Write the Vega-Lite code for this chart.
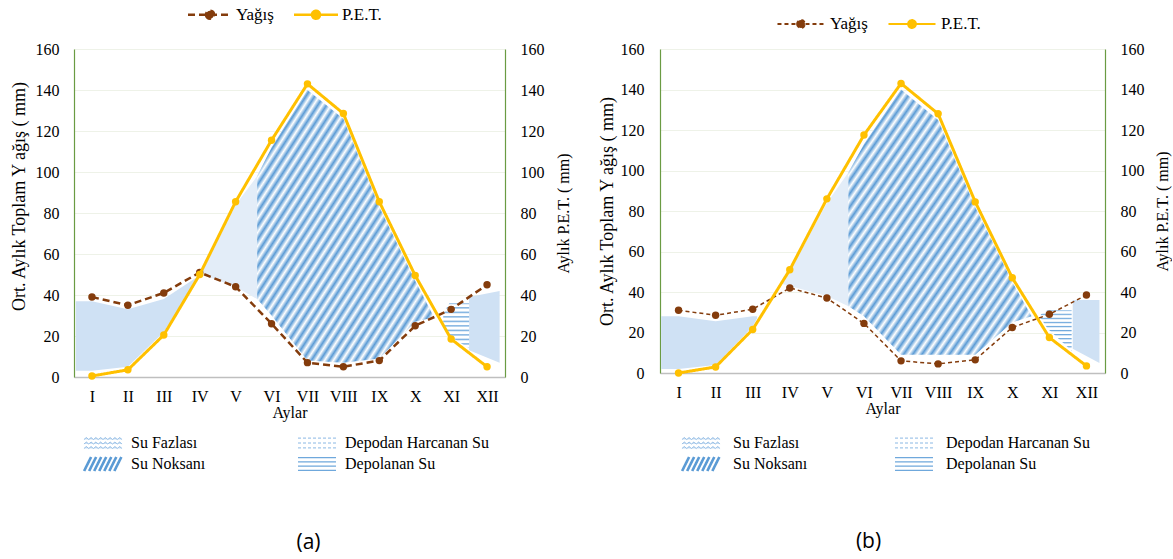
{
  "$schema": "https://vega.github.io/schema/vega-lite/v6.json",
  "background": "white",
  "padding": {"left": 10, "right": 2, "top": 5, "bottom": 2},
  "config": {
    "font": "Liberation Serif",
    "view": {"stroke": null},
    "axis": {"labelFont": "Liberation Serif", "titleFont": "Liberation Serif", "labelColor": "#000", "titleColor": "#000", "titleFontWeight": "normal", "labelFontSize": 16, "titleFontSize": 18, "ticks": false},
    "legend": {"labelFont": "Liberation Serif", "labelColor": "#000", "labelFontSize": 16},
    "title": {"font": "Open Sans", "fontWeight": "normal", "fontSize": 21, "color": "#000"}
  },
  "datasets": {
    "lines": [
      {"panel": "a", "series": "Yağış", "m": 1, "v": 39}, {"panel": "a", "series": "Yağış", "m": 2, "v": 35}, {"panel": "a", "series": "Yağış", "m": 3, "v": 41}, {"panel": "a", "series": "Yağış", "m": 4, "v": 51}, {"panel": "a", "series": "Yağış", "m": 5, "v": 44}, {"panel": "a", "series": "Yağış", "m": 6, "v": 26}, {"panel": "a", "series": "Yağış", "m": 7, "v": 7}, {"panel": "a", "series": "Yağış", "m": 8, "v": 5}, {"panel": "a", "series": "Yağış", "m": 9, "v": 8}, {"panel": "a", "series": "Yağış", "m": 10, "v": 25}, {"panel": "a", "series": "Yağış", "m": 11, "v": 33}, {"panel": "a", "series": "Yağış", "m": 12, "v": 45},
      {"panel": "a", "series": "P.E.T.", "m": 1, "v": 0.5}, {"panel": "a", "series": "P.E.T.", "m": 2, "v": 3.5}, {"panel": "a", "series": "P.E.T.", "m": 3, "v": 20.5}, {"panel": "a", "series": "P.E.T.", "m": 4, "v": 50}, {"panel": "a", "series": "P.E.T.", "m": 5, "v": 85.5}, {"panel": "a", "series": "P.E.T.", "m": 6, "v": 115.5}, {"panel": "a", "series": "P.E.T.", "m": 7, "v": 143}, {"panel": "a", "series": "P.E.T.", "m": 8, "v": 128.5}, {"panel": "a", "series": "P.E.T.", "m": 9, "v": 85.5}, {"panel": "a", "series": "P.E.T.", "m": 10, "v": 49.5}, {"panel": "a", "series": "P.E.T.", "m": 11, "v": 18.5}, {"panel": "a", "series": "P.E.T.", "m": 12, "v": 5},
      {"panel": "b", "series": "Yağış", "m": 1, "v": 31}, {"panel": "b", "series": "Yağış", "m": 2, "v": 28.5}, {"panel": "b", "series": "Yağış", "m": 3, "v": 31.5}, {"panel": "b", "series": "Yağış", "m": 4, "v": 42}, {"panel": "b", "series": "Yağış", "m": 5, "v": 37}, {"panel": "b", "series": "Yağış", "m": 6, "v": 24.5}, {"panel": "b", "series": "Yağış", "m": 7, "v": 6}, {"panel": "b", "series": "Yağış", "m": 8, "v": 4.5}, {"panel": "b", "series": "Yağış", "m": 9, "v": 6.5}, {"panel": "b", "series": "Yağış", "m": 10, "v": 22.5}, {"panel": "b", "series": "Yağış", "m": 11, "v": 29}, {"panel": "b", "series": "Yağış", "m": 12, "v": 38.5},
      {"panel": "b", "series": "P.E.T.", "m": 1, "v": 0}, {"panel": "b", "series": "P.E.T.", "m": 2, "v": 3}, {"panel": "b", "series": "P.E.T.", "m": 3, "v": 21.5}, {"panel": "b", "series": "P.E.T.", "m": 4, "v": 51}, {"panel": "b", "series": "P.E.T.", "m": 5, "v": 86}, {"panel": "b", "series": "P.E.T.", "m": 6, "v": 117.5}, {"panel": "b", "series": "P.E.T.", "m": 7, "v": 143}, {"panel": "b", "series": "P.E.T.", "m": 8, "v": 128}, {"panel": "b", "series": "P.E.T.", "m": 9, "v": 84.5}, {"panel": "b", "series": "P.E.T.", "m": 10, "v": 47}, {"panel": "b", "series": "P.E.T.", "m": 11, "v": 17.5}, {"panel": "b", "series": "P.E.T.", "m": 12, "v": 3.5}
    ],
    "areas": [
      {"panel": "a", "cat": "Su Fazlası", "seg": "a1", "m": 0.55, "top": 37, "bottom": 3}, {"panel": "a", "cat": "Su Fazlası", "seg": "a1", "m": 1, "top": 37, "bottom": 3}, {"panel": "a", "cat": "Su Fazlası", "seg": "a1", "m": 2, "top": 33, "bottom": 5}, {"panel": "a", "cat": "Su Fazlası", "seg": "a1", "m": 3, "top": 38, "bottom": 22}, {"panel": "a", "cat": "Su Fazlası", "seg": "a1", "m": 3.95, "top": 49, "bottom": 48},
      {"panel": "a", "cat": "Depodan Harcanan Su", "seg": "a2", "m": 4.05, "top": 51, "bottom": 50}, {"panel": "a", "cat": "Depodan Harcanan Su", "seg": "a2", "m": 5, "top": 84, "bottom": 44}, {"panel": "a", "cat": "Depodan Harcanan Su", "seg": "a2", "m": 5.6, "top": 98, "bottom": 38},
      {"panel": "a", "cat": "Su Noksanı", "seg": "a3", "m": 5.6, "top": 98, "bottom": 38}, {"panel": "a", "cat": "Su Noksanı", "seg": "a3", "m": 6, "top": 112, "bottom": 30}, {"panel": "a", "cat": "Su Noksanı", "seg": "a3", "m": 7, "top": 140, "bottom": 8}, {"panel": "a", "cat": "Su Noksanı", "seg": "a3", "m": 8, "top": 126, "bottom": 7}, {"panel": "a", "cat": "Su Noksanı", "seg": "a3", "m": 9, "top": 83, "bottom": 9}, {"panel": "a", "cat": "Su Noksanı", "seg": "a3", "m": 10, "top": 47, "bottom": 27}, {"panel": "a", "cat": "Su Noksanı", "seg": "a3", "m": 10.5, "top": 30, "bottom": 29},
      {"panel": "a", "cat": "Depolanan Su", "seg": "a4", "m": 10.78, "top": 31, "bottom": 25}, {"panel": "a", "cat": "Depolanan Su", "seg": "a4", "m": 10.95, "top": 36, "bottom": 20}, {"panel": "a", "cat": "Depolanan Su", "seg": "a4", "m": 11.5, "top": 36, "bottom": 14},
      {"panel": "a", "cat": "Su Fazlası", "seg": "a5", "m": 11.5, "top": 39, "bottom": 13}, {"panel": "a", "cat": "Su Fazlası", "seg": "a5", "m": 12.35, "top": 42, "bottom": 7},
      {"panel": "b", "cat": "Su Fazlası", "seg": "b1", "m": 0.53, "top": 28, "bottom": 2}, {"panel": "b", "cat": "Su Fazlası", "seg": "b1", "m": 1, "top": 28, "bottom": 2}, {"panel": "b", "cat": "Su Fazlası", "seg": "b1", "m": 2, "top": 25.5, "bottom": 4}, {"panel": "b", "cat": "Su Fazlası", "seg": "b1", "m": 3, "top": 28, "bottom": 23}, {"panel": "b", "cat": "Su Fazlası", "seg": "b1", "m": 3.12, "top": 28, "bottom": 27},
      {"panel": "b", "cat": "Depodan Harcanan Su", "seg": "b2", "m": 3.8, "top": 46, "bottom": 44}, {"panel": "b", "cat": "Depodan Harcanan Su", "seg": "b2", "m": 4, "top": 50, "bottom": 43}, {"panel": "b", "cat": "Depodan Harcanan Su", "seg": "b2", "m": 5, "top": 84, "bottom": 38}, {"panel": "b", "cat": "Depodan Harcanan Su", "seg": "b2", "m": 5.58, "top": 99, "bottom": 33},
      {"panel": "b", "cat": "Su Noksanı", "seg": "b3", "m": 5.58, "top": 99, "bottom": 33}, {"panel": "b", "cat": "Su Noksanı", "seg": "b3", "m": 6, "top": 113, "bottom": 28}, {"panel": "b", "cat": "Su Noksanı", "seg": "b3", "m": 7, "top": 140, "bottom": 9}, {"panel": "b", "cat": "Su Noksanı", "seg": "b3", "m": 8, "top": 125, "bottom": 9}, {"panel": "b", "cat": "Su Noksanı", "seg": "b3", "m": 9, "top": 82, "bottom": 9}, {"panel": "b", "cat": "Su Noksanı", "seg": "b3", "m": 10, "top": 45, "bottom": 25}, {"panel": "b", "cat": "Su Noksanı", "seg": "b3", "m": 10.52, "top": 28, "bottom": 28},
      {"panel": "b", "cat": "Depolanan Su", "seg": "b4", "m": 10.77, "top": 29, "bottom": 27}, {"panel": "b", "cat": "Depolanan Su", "seg": "b4", "m": 10.95, "top": 31, "bottom": 22}, {"panel": "b", "cat": "Depolanan Su", "seg": "b4", "m": 11.6, "top": 31, "bottom": 11},
      {"panel": "b", "cat": "Su Fazlası", "seg": "b5", "m": 11.63, "top": 36, "bottom": 12}, {"panel": "b", "cat": "Su Fazlası", "seg": "b5", "m": 12.35, "top": 36, "bottom": 5}
    ]
  },
  "spacing": 27,
  "resolve": {"scale": {"color": "independent", "fill": "independent", "strokeDash": "independent"}, "legend": {"color": "independent", "fill": "independent", "strokeDash": "independent"}},
  "hconcat": [
    {
      "width": 431,
      "height": 328,
      "title": {"text": "(a)", "orient": "bottom", "anchor": "middle", "offset": 55, "dx": 19},
      "resolve": {"scale": {"y": "independent"}},
      "layer": [
        {
          "data": {"name": "areas"},
          "transform": [{"filter": "datum.panel === 'a'"}],
          "mark": {"type": "area", "interpolate": "linear", "opacity": 1},
          "encoding": {
            "x": {"field": "m", "type": "quantitative", "scale": {"domain": [0.5, 12.5], "nice": false, "zero": false}, "axis": {"values": [1, 2, 3, 4, 5, 6, 7, 8, 9, 10, 11, 12], "labelExpr": "['I','II','III','IV','V','VI','VII','VIII','IX','X','XI','XII'][datum.value-1]", "grid": false, "domainColor": "#bfbfbf", "domainWidth": 1.5, "labelPadding": 11, "title": "Aylar", "titlePadding": 0, "titleFontSize": 16, "labelFlush": false, "labelOverlap": false}},
            "y": {"field": "top", "type": "quantitative", "scale": {"domain": [0, 160], "nice": false}, "axis": null},
            "y2": {"field": "bottom"},
            "detail": {"field": "seg"},
            "fill": {"field": "cat", "type": "nominal", "scale": {"domain": ["Su Fazlası", "Depodan Harcanan Su", "Su Noksanı", "Depolanan Su"], "range": ["#cfe1f4", "#e3edf8", "#ffffff", "#ffffff"]}, "legend": {"title": null, "orient": "none", "legendX": 21, "legendY": 386, "direction": "horizontal", "columns": 2, "symbolType": "square", "symbolSize": 196, "symbolStrokeWidth": 1, "symbolOpacity": 1, "labelFontSize": 16, "labelOffset": 20, "columnPadding": 89, "rowPadding": 0, "padding": 0, "encode": {"symbols": {"update": {
              "shape": {"signal": "datum.value === 'Su Noksanı' ? 'M-2.7,1L-1.7,-1M-1.98,1L-0.98,-1M-1.26,1L-0.26,-1M-0.54,1L0.46,-1M0.18,1L1.18,-1M0.9,1L1.9,-1M1.62,1L2.62,-1' : datum.value === 'Depolanan Su' ? 'M-2.714,-0.9H2.714M-2.714,-0.3H2.714M-2.714,0.3H2.714M-2.714,0.9H2.714' : datum.value === 'Su Fazlası' ? 'M-2.72,-0.5L-2.38,-0.77L-2.04,-0.5L-1.7,-0.77L-1.36,-0.5L-1.02,-0.77L-0.68,-0.5L-0.34,-0.77L0,-0.5L0.34,-0.77L0.68,-0.5L1.02,-0.77L1.36,-0.5L1.7,-0.77L2.04,-0.5L2.38,-0.77L2.72,-0.5M-2.72,0.14L-2.38,-0.13L-2.04,0.14L-1.7,-0.13L-1.36,0.14L-1.02,-0.13L-0.68,0.14L-0.34,-0.13L0,0.14L0.34,-0.13L0.68,0.14L1.02,-0.13L1.36,0.14L1.7,-0.13L2.04,0.14L2.38,-0.13L2.72,0.14M-2.72,0.78L-2.38,0.51L-2.04,0.78L-1.7,0.51L-1.36,0.78L-1.02,0.51L-0.68,0.78L-0.34,0.51L0,0.78L0.34,0.51L0.68,0.78L1.02,0.51L1.36,0.78L1.7,0.51L2.04,0.78L2.38,0.51L2.72,0.78' : 'M-2.714,-0.7H2.714M-2.714,0H2.714M-2.714,0.7H2.714'"},
              "fill": {"value": "transparent"},
              "stroke": {"signal": "datum.value === 'Su Noksanı' ? '#5b9bd5' : datum.value === 'Depolanan Su' ? '#6fa8dc' : '#8ab8e4'"},
              "strokeWidth": {"signal": "datum.value === 'Su Noksanı' ? 2.6 : datum.value === 'Depolanan Su' ? 1.3 : 1"},
              "strokeDash": {"signal": "datum.value === 'Depodan Harcanan Su' ? [3, 2] : [1, 0]"}
            }}}}}
          }
        },
        {
          "data": {"name": "areas"},
          "transform": [{"filter": "datum.panel === 'a' && datum.cat === 'Su Noksanı'"}],
          "mark": {"type": "area", "interpolate": "linear", "opacity": 1, "fill": {"gradient": "linear", "x1": 0, "y1": 0, "x2": 1, "y2": 1, "stops": [{"offset": 0, "color": "#5b9bd5"}, {"offset": 0.0125, "color": "#ffffff"}, {"offset": 0.025, "color": "#5b9bd5"}, {"offset": 0.0375, "color": "#ffffff"}, {"offset": 0.05, "color": "#5b9bd5"}, {"offset": 0.0625, "color": "#ffffff"}, {"offset": 0.075, "color": "#5b9bd5"}, {"offset": 0.0875, "color": "#ffffff"}, {"offset": 0.1, "color": "#5b9bd5"}, {"offset": 0.1125, "color": "#ffffff"}, {"offset": 0.125, "color": "#5b9bd5"}, {"offset": 0.1375, "color": "#ffffff"}, {"offset": 0.15, "color": "#5b9bd5"}, {"offset": 0.1625, "color": "#ffffff"}, {"offset": 0.175, "color": "#5b9bd5"}, {"offset": 0.1875, "color": "#ffffff"}, {"offset": 0.2, "color": "#5b9bd5"}, {"offset": 0.2125, "color": "#ffffff"}, {"offset": 0.225, "color": "#5b9bd5"}, {"offset": 0.2375, "color": "#ffffff"}, {"offset": 0.25, "color": "#5b9bd5"}, {"offset": 0.2625, "color": "#ffffff"}, {"offset": 0.275, "color": "#5b9bd5"}, {"offset": 0.2875, "color": "#ffffff"}, {"offset": 0.3, "color": "#5b9bd5"}, {"offset": 0.3125, "color": "#ffffff"}, {"offset": 0.325, "color": "#5b9bd5"}, {"offset": 0.3375, "color": "#ffffff"}, {"offset": 0.35, "color": "#5b9bd5"}, {"offset": 0.3625, "color": "#ffffff"}, {"offset": 0.375, "color": "#5b9bd5"}, {"offset": 0.3875, "color": "#ffffff"}, {"offset": 0.4, "color": "#5b9bd5"}, {"offset": 0.4125, "color": "#ffffff"}, {"offset": 0.425, "color": "#5b9bd5"}, {"offset": 0.4375, "color": "#ffffff"}, {"offset": 0.45, "color": "#5b9bd5"}, {"offset": 0.4625, "color": "#ffffff"}, {"offset": 0.475, "color": "#5b9bd5"}, {"offset": 0.4875, "color": "#ffffff"}, {"offset": 0.5, "color": "#5b9bd5"}, {"offset": 0.5125, "color": "#ffffff"}, {"offset": 0.525, "color": "#5b9bd5"}, {"offset": 0.5375, "color": "#ffffff"}, {"offset": 0.55, "color": "#5b9bd5"}, {"offset": 0.5625, "color": "#ffffff"}, {"offset": 0.575, "color": "#5b9bd5"}, {"offset": 0.5875, "color": "#ffffff"}, {"offset": 0.6, "color": "#5b9bd5"}, {"offset": 0.6125, "color": "#ffffff"}, {"offset": 0.625, "color": "#5b9bd5"}, {"offset": 0.6375, "color": "#ffffff"}, {"offset": 0.65, "color": "#5b9bd5"}, {"offset": 0.6625, "color": "#ffffff"}, {"offset": 0.675, "color": "#5b9bd5"}, {"offset": 0.6875, "color": "#ffffff"}, {"offset": 0.7, "color": "#5b9bd5"}, {"offset": 0.7125, "color": "#ffffff"}, {"offset": 0.725, "color": "#5b9bd5"}, {"offset": 0.7375, "color": "#ffffff"}, {"offset": 0.75, "color": "#5b9bd5"}, {"offset": 0.7625, "color": "#ffffff"}, {"offset": 0.775, "color": "#5b9bd5"}, {"offset": 0.7875, "color": "#ffffff"}, {"offset": 0.8, "color": "#5b9bd5"}, {"offset": 0.8125, "color": "#ffffff"}, {"offset": 0.825, "color": "#5b9bd5"}, {"offset": 0.8375, "color": "#ffffff"}, {"offset": 0.85, "color": "#5b9bd5"}, {"offset": 0.8625, "color": "#ffffff"}, {"offset": 0.875, "color": "#5b9bd5"}, {"offset": 0.8875, "color": "#ffffff"}, {"offset": 0.9, "color": "#5b9bd5"}, {"offset": 0.9125, "color": "#ffffff"}, {"offset": 0.925, "color": "#5b9bd5"}, {"offset": 0.9375, "color": "#ffffff"}, {"offset": 0.95, "color": "#5b9bd5"}, {"offset": 0.9625, "color": "#ffffff"}, {"offset": 0.975, "color": "#5b9bd5"}, {"offset": 0.9875, "color": "#ffffff"}, {"offset": 1, "color": "#5b9bd5"}]}},
          "encoding": {
            "x": {"field": "m", "type": "quantitative", "scale": {"domain": [0.5, 12.5], "nice": false, "zero": false}, "axis": {"values": [1, 2, 3, 4, 5, 6, 7, 8, 9, 10, 11, 12], "labelExpr": "['I','II','III','IV','V','VI','VII','VIII','IX','X','XI','XII'][datum.value-1]", "grid": false, "domainColor": "#bfbfbf", "domainWidth": 1.5, "labelPadding": 11, "title": "Aylar", "titlePadding": 0, "titleFontSize": 16, "labelFlush": false, "labelOverlap": false}},
            "y": {"field": "top", "type": "quantitative", "scale": {"domain": [0, 160], "nice": false}, "axis": null},
            "y2": {"field": "bottom"},
            "detail": {"field": "seg"}
          }
        },
        {
          "data": {"name": "areas"},
          "transform": [{"filter": "datum.panel === 'a' && datum.cat === 'Depolanan Su'"}],
          "mark": {"type": "area", "interpolate": "linear", "opacity": 1, "fill": {"gradient": "linear", "x1": 0, "y1": 0, "x2": 0, "y2": 1, "stops": [{"offset": 0, "color": "#6fa8dc"}, {"offset": 0.035, "color": "#ffffff"}, {"offset": 0.075, "color": "#ffffff"}, {"offset": 0.1, "color": "#6fa8dc"}, {"offset": 0.135, "color": "#ffffff"}, {"offset": 0.175, "color": "#ffffff"}, {"offset": 0.2, "color": "#6fa8dc"}, {"offset": 0.235, "color": "#ffffff"}, {"offset": 0.275, "color": "#ffffff"}, {"offset": 0.3, "color": "#6fa8dc"}, {"offset": 0.335, "color": "#ffffff"}, {"offset": 0.375, "color": "#ffffff"}, {"offset": 0.4, "color": "#6fa8dc"}, {"offset": 0.435, "color": "#ffffff"}, {"offset": 0.475, "color": "#ffffff"}, {"offset": 0.5, "color": "#6fa8dc"}, {"offset": 0.535, "color": "#ffffff"}, {"offset": 0.575, "color": "#ffffff"}, {"offset": 0.6, "color": "#6fa8dc"}, {"offset": 0.635, "color": "#ffffff"}, {"offset": 0.675, "color": "#ffffff"}, {"offset": 0.7, "color": "#6fa8dc"}, {"offset": 0.735, "color": "#ffffff"}, {"offset": 0.775, "color": "#ffffff"}, {"offset": 0.8, "color": "#6fa8dc"}, {"offset": 0.835, "color": "#ffffff"}, {"offset": 0.875, "color": "#ffffff"}, {"offset": 0.9, "color": "#6fa8dc"}, {"offset": 0.935, "color": "#ffffff"}, {"offset": 0.975, "color": "#ffffff"}, {"offset": 1, "color": "#6fa8dc"}]}},
          "encoding": {
            "x": {"field": "m", "type": "quantitative", "scale": {"domain": [0.5, 12.5], "nice": false, "zero": false}, "axis": {"values": [1, 2, 3, 4, 5, 6, 7, 8, 9, 10, 11, 12], "labelExpr": "['I','II','III','IV','V','VI','VII','VIII','IX','X','XI','XII'][datum.value-1]", "grid": false, "domainColor": "#bfbfbf", "domainWidth": 1.5, "labelPadding": 11, "title": "Aylar", "titlePadding": 0, "titleFontSize": 16, "labelFlush": false, "labelOverlap": false}},
            "y": {"field": "top", "type": "quantitative", "scale": {"domain": [0, 160], "nice": false}, "axis": null},
            "y2": {"field": "bottom"},
            "detail": {"field": "seg"}
          }
        },
        {
          "data": {"name": "lines"},
          "transform": [{"filter": "datum.panel === 'a' && datum.series === 'Yağış'"}],
          "mark": {"type": "line", "strokeWidth": 2.5, "point": {"filled": true, "size": 55}},
          "encoding": {
            "x": {"field": "m", "type": "quantitative", "scale": {"domain": [0.5, 12.5], "nice": false, "zero": false}, "axis": {"values": [1, 2, 3, 4, 5, 6, 7, 8, 9, 10, 11, 12], "labelExpr": "['I','II','III','IV','V','VI','VII','VIII','IX','X','XI','XII'][datum.value-1]", "grid": false, "domainColor": "#bfbfbf", "domainWidth": 1.5, "labelPadding": 11, "title": "Aylar", "titlePadding": 0, "titleFontSize": 16, "labelFlush": false, "labelOverlap": false}},
            "y": {"field": "v", "type": "quantitative", "scale": {"domain": [0, 160], "nice": false}, "axis": {"orient": "left", "values": [0, 20, 40, 60, 80, 100, 120, 140, 160], "grid": true, "gridColor": "#eef2e8", "domainColor": "#6a9b43", "domainWidth": 1.2, "labelPadding": 15, "title": "Ort. Aylık Toplam Y ağış ( mm)", "titlePadding": 7, "titleY": 147}},
            "color": {"field": "series", "type": "nominal", "scale": {"domain": ["Yağış", "P.E.T."], "range": ["#843c0c", "#ffc000"]}, "legend": {"title": null, "orient": "none", "legendX": 126.5, "legendY": -44, "direction": "horizontal", "symbolType": "M-2.75,0H2.75M-0.5,0A0.5,0.5 0 1,0 0.5,0A0.5,0.5 0 1,0 -0.5,0Z", "symbolSize": 256, "symbolStrokeWidth": 2.5, "labelFontSize": 17, "labelOffset": 16.5, "columnPadding": 14, "encode": {"symbols": {"update": {"fill": {"signal": "datum.value === 'Yağış' ? '#843c0c' : '#ffc000'"}}}}}},
            "strokeDash": {"field": "series", "type": "nominal", "scale": {"domain": ["Yağış", "P.E.T."], "range": [[7, 4], [1, 0]]}, "legend": {"title": null, "orient": "none", "legendX": 126.5, "legendY": -44}}
          }
        },
        {
          "data": {"name": "lines"},
          "transform": [{"filter": "datum.panel === 'a' && datum.series === 'P.E.T.'"}],
          "mark": {"type": "line", "strokeWidth": 3, "point": {"filled": true, "size": 55}},
          "encoding": {
            "x": {"field": "m", "type": "quantitative", "scale": {"domain": [0.5, 12.5], "nice": false, "zero": false}, "axis": {"values": [1, 2, 3, 4, 5, 6, 7, 8, 9, 10, 11, 12], "labelExpr": "['I','II','III','IV','V','VI','VII','VIII','IX','X','XI','XII'][datum.value-1]", "grid": false, "domainColor": "#bfbfbf", "domainWidth": 1.5, "labelPadding": 11, "title": "Aylar", "titlePadding": 0, "titleFontSize": 16, "labelFlush": false, "labelOverlap": false}},
            "y": {"field": "v", "type": "quantitative", "scale": {"domain": [0, 160], "nice": false}, "axis": {"orient": "right", "values": [0, 20, 40, 60, 80, 100, 120, 140, 160], "grid": false, "domainColor": "#6a9b43", "domainWidth": 1.2, "labelPadding": 15, "title": "Aylık P.E.T. ( mm)", "titleFontSize": 16, "titleAngle": 270, "titleBaseline": "top", "titlePadding": 11}},
            "color": {"field": "series", "type": "nominal", "scale": {"domain": ["Yağış", "P.E.T."], "range": ["#843c0c", "#ffc000"]}},
            "strokeDash": {"field": "series", "type": "nominal", "scale": {"domain": ["Yağış", "P.E.T."], "range": [[7, 4], [1, 0]]}}
          }
        }
      ]
    },
    {
      "width": 445,
      "height": 324,
      "title": {"text": "(b)", "orient": "bottom", "anchor": "middle", "offset": 54, "dx": -14},
      "resolve": {"scale": {"y": "independent"}},
      "layer": [
        {
          "data": {"name": "areas"},
          "transform": [{"filter": "datum.panel === 'b'"}],
          "mark": {"type": "area", "interpolate": "linear", "opacity": 1},
          "encoding": {
            "x": {"field": "m", "type": "quantitative", "scale": {"domain": [0.5, 12.5], "nice": false, "zero": false}, "axis": {"values": [1, 2, 3, 4, 5, 6, 7, 8, 9, 10, 11, 12], "labelExpr": "['I','II','III','IV','V','VI','VII','VIII','IX','X','XI','XII'][datum.value-1]", "grid": false, "domainColor": "#bfbfbf", "domainWidth": 1.5, "labelPadding": 11, "title": "Aylar", "titlePadding": 0, "titleFontSize": 16, "labelFlush": false, "labelOverlap": false}},
            "y": {"field": "top", "type": "quantitative", "scale": {"domain": [0, 160], "nice": false}, "axis": null},
            "y2": {"field": "bottom"},
            "detail": {"field": "seg"},
            "fill": {"field": "cat", "type": "nominal", "scale": {"domain": ["Su Fazlası", "Depodan Harcanan Su", "Su Noksanı", "Depolanan Su"], "range": ["#cfe1f4", "#e3edf8", "#ffffff", "#ffffff"]}, "legend": {"title": null, "orient": "none", "legendX": 33, "legendY": 386, "direction": "horizontal", "columns": 2, "symbolType": "square", "symbolSize": 196, "symbolStrokeWidth": 1, "symbolOpacity": 1, "labelFontSize": 16, "labelOffset": 24, "columnPadding": 84, "rowPadding": 0, "padding": 0, "encode": {"symbols": {"update": {
              "shape": {"signal": "datum.value === 'Su Noksanı' ? 'M-2.7,1L-1.7,-1M-1.98,1L-0.98,-1M-1.26,1L-0.26,-1M-0.54,1L0.46,-1M0.18,1L1.18,-1M0.9,1L1.9,-1M1.62,1L2.62,-1' : datum.value === 'Depolanan Su' ? 'M-2.714,-0.9H2.714M-2.714,-0.3H2.714M-2.714,0.3H2.714M-2.714,0.9H2.714' : datum.value === 'Su Fazlası' ? 'M-2.72,-0.5L-2.38,-0.77L-2.04,-0.5L-1.7,-0.77L-1.36,-0.5L-1.02,-0.77L-0.68,-0.5L-0.34,-0.77L0,-0.5L0.34,-0.77L0.68,-0.5L1.02,-0.77L1.36,-0.5L1.7,-0.77L2.04,-0.5L2.38,-0.77L2.72,-0.5M-2.72,0.14L-2.38,-0.13L-2.04,0.14L-1.7,-0.13L-1.36,0.14L-1.02,-0.13L-0.68,0.14L-0.34,-0.13L0,0.14L0.34,-0.13L0.68,0.14L1.02,-0.13L1.36,0.14L1.7,-0.13L2.04,0.14L2.38,-0.13L2.72,0.14M-2.72,0.78L-2.38,0.51L-2.04,0.78L-1.7,0.51L-1.36,0.78L-1.02,0.51L-0.68,0.78L-0.34,0.51L0,0.78L0.34,0.51L0.68,0.78L1.02,0.51L1.36,0.78L1.7,0.51L2.04,0.78L2.38,0.51L2.72,0.78' : 'M-2.714,-0.7H2.714M-2.714,0H2.714M-2.714,0.7H2.714'"},
              "fill": {"value": "transparent"},
              "stroke": {"signal": "datum.value === 'Su Noksanı' ? '#5b9bd5' : datum.value === 'Depolanan Su' ? '#6fa8dc' : '#8ab8e4'"},
              "strokeWidth": {"signal": "datum.value === 'Su Noksanı' ? 2.6 : datum.value === 'Depolanan Su' ? 1.3 : 1"},
              "strokeDash": {"signal": "datum.value === 'Depodan Harcanan Su' ? [3, 2] : [1, 0]"}
            }}}}}
          }
        },
        {
          "data": {"name": "areas"},
          "transform": [{"filter": "datum.panel === 'b' && datum.cat === 'Su Noksanı'"}],
          "mark": {"type": "area", "interpolate": "linear", "opacity": 1, "fill": {"gradient": "linear", "x1": 0, "y1": 0, "x2": 1, "y2": 1, "stops": [{"offset": 0, "color": "#5b9bd5"}, {"offset": 0.0125, "color": "#ffffff"}, {"offset": 0.025, "color": "#5b9bd5"}, {"offset": 0.0375, "color": "#ffffff"}, {"offset": 0.05, "color": "#5b9bd5"}, {"offset": 0.0625, "color": "#ffffff"}, {"offset": 0.075, "color": "#5b9bd5"}, {"offset": 0.0875, "color": "#ffffff"}, {"offset": 0.1, "color": "#5b9bd5"}, {"offset": 0.1125, "color": "#ffffff"}, {"offset": 0.125, "color": "#5b9bd5"}, {"offset": 0.1375, "color": "#ffffff"}, {"offset": 0.15, "color": "#5b9bd5"}, {"offset": 0.1625, "color": "#ffffff"}, {"offset": 0.175, "color": "#5b9bd5"}, {"offset": 0.1875, "color": "#ffffff"}, {"offset": 0.2, "color": "#5b9bd5"}, {"offset": 0.2125, "color": "#ffffff"}, {"offset": 0.225, "color": "#5b9bd5"}, {"offset": 0.2375, "color": "#ffffff"}, {"offset": 0.25, "color": "#5b9bd5"}, {"offset": 0.2625, "color": "#ffffff"}, {"offset": 0.275, "color": "#5b9bd5"}, {"offset": 0.2875, "color": "#ffffff"}, {"offset": 0.3, "color": "#5b9bd5"}, {"offset": 0.3125, "color": "#ffffff"}, {"offset": 0.325, "color": "#5b9bd5"}, {"offset": 0.3375, "color": "#ffffff"}, {"offset": 0.35, "color": "#5b9bd5"}, {"offset": 0.3625, "color": "#ffffff"}, {"offset": 0.375, "color": "#5b9bd5"}, {"offset": 0.3875, "color": "#ffffff"}, {"offset": 0.4, "color": "#5b9bd5"}, {"offset": 0.4125, "color": "#ffffff"}, {"offset": 0.425, "color": "#5b9bd5"}, {"offset": 0.4375, "color": "#ffffff"}, {"offset": 0.45, "color": "#5b9bd5"}, {"offset": 0.4625, "color": "#ffffff"}, {"offset": 0.475, "color": "#5b9bd5"}, {"offset": 0.4875, "color": "#ffffff"}, {"offset": 0.5, "color": "#5b9bd5"}, {"offset": 0.5125, "color": "#ffffff"}, {"offset": 0.525, "color": "#5b9bd5"}, {"offset": 0.5375, "color": "#ffffff"}, {"offset": 0.55, "color": "#5b9bd5"}, {"offset": 0.5625, "color": "#ffffff"}, {"offset": 0.575, "color": "#5b9bd5"}, {"offset": 0.5875, "color": "#ffffff"}, {"offset": 0.6, "color": "#5b9bd5"}, {"offset": 0.6125, "color": "#ffffff"}, {"offset": 0.625, "color": "#5b9bd5"}, {"offset": 0.6375, "color": "#ffffff"}, {"offset": 0.65, "color": "#5b9bd5"}, {"offset": 0.6625, "color": "#ffffff"}, {"offset": 0.675, "color": "#5b9bd5"}, {"offset": 0.6875, "color": "#ffffff"}, {"offset": 0.7, "color": "#5b9bd5"}, {"offset": 0.7125, "color": "#ffffff"}, {"offset": 0.725, "color": "#5b9bd5"}, {"offset": 0.7375, "color": "#ffffff"}, {"offset": 0.75, "color": "#5b9bd5"}, {"offset": 0.7625, "color": "#ffffff"}, {"offset": 0.775, "color": "#5b9bd5"}, {"offset": 0.7875, "color": "#ffffff"}, {"offset": 0.8, "color": "#5b9bd5"}, {"offset": 0.8125, "color": "#ffffff"}, {"offset": 0.825, "color": "#5b9bd5"}, {"offset": 0.8375, "color": "#ffffff"}, {"offset": 0.85, "color": "#5b9bd5"}, {"offset": 0.8625, "color": "#ffffff"}, {"offset": 0.875, "color": "#5b9bd5"}, {"offset": 0.8875, "color": "#ffffff"}, {"offset": 0.9, "color": "#5b9bd5"}, {"offset": 0.9125, "color": "#ffffff"}, {"offset": 0.925, "color": "#5b9bd5"}, {"offset": 0.9375, "color": "#ffffff"}, {"offset": 0.95, "color": "#5b9bd5"}, {"offset": 0.9625, "color": "#ffffff"}, {"offset": 0.975, "color": "#5b9bd5"}, {"offset": 0.9875, "color": "#ffffff"}, {"offset": 1, "color": "#5b9bd5"}]}},
          "encoding": {
            "x": {"field": "m", "type": "quantitative", "scale": {"domain": [0.5, 12.5], "nice": false, "zero": false}, "axis": {"values": [1, 2, 3, 4, 5, 6, 7, 8, 9, 10, 11, 12], "labelExpr": "['I','II','III','IV','V','VI','VII','VIII','IX','X','XI','XII'][datum.value-1]", "grid": false, "domainColor": "#bfbfbf", "domainWidth": 1.5, "labelPadding": 11, "title": "Aylar", "titlePadding": 0, "titleFontSize": 16, "labelFlush": false, "labelOverlap": false}},
            "y": {"field": "top", "type": "quantitative", "scale": {"domain": [0, 160], "nice": false}, "axis": null},
            "y2": {"field": "bottom"},
            "detail": {"field": "seg"}
          }
        },
        {
          "data": {"name": "areas"},
          "transform": [{"filter": "datum.panel === 'b' && datum.cat === 'Depolanan Su'"}],
          "mark": {"type": "area", "interpolate": "linear", "opacity": 1, "fill": {"gradient": "linear", "x1": 0, "y1": 0, "x2": 0, "y2": 1, "stops": [{"offset": 0, "color": "#6fa8dc"}, {"offset": 0.035, "color": "#ffffff"}, {"offset": 0.075, "color": "#ffffff"}, {"offset": 0.1, "color": "#6fa8dc"}, {"offset": 0.135, "color": "#ffffff"}, {"offset": 0.175, "color": "#ffffff"}, {"offset": 0.2, "color": "#6fa8dc"}, {"offset": 0.235, "color": "#ffffff"}, {"offset": 0.275, "color": "#ffffff"}, {"offset": 0.3, "color": "#6fa8dc"}, {"offset": 0.335, "color": "#ffffff"}, {"offset": 0.375, "color": "#ffffff"}, {"offset": 0.4, "color": "#6fa8dc"}, {"offset": 0.435, "color": "#ffffff"}, {"offset": 0.475, "color": "#ffffff"}, {"offset": 0.5, "color": "#6fa8dc"}, {"offset": 0.535, "color": "#ffffff"}, {"offset": 0.575, "color": "#ffffff"}, {"offset": 0.6, "color": "#6fa8dc"}, {"offset": 0.635, "color": "#ffffff"}, {"offset": 0.675, "color": "#ffffff"}, {"offset": 0.7, "color": "#6fa8dc"}, {"offset": 0.735, "color": "#ffffff"}, {"offset": 0.775, "color": "#ffffff"}, {"offset": 0.8, "color": "#6fa8dc"}, {"offset": 0.835, "color": "#ffffff"}, {"offset": 0.875, "color": "#ffffff"}, {"offset": 0.9, "color": "#6fa8dc"}, {"offset": 0.935, "color": "#ffffff"}, {"offset": 0.975, "color": "#ffffff"}, {"offset": 1, "color": "#6fa8dc"}]}},
          "encoding": {
            "x": {"field": "m", "type": "quantitative", "scale": {"domain": [0.5, 12.5], "nice": false, "zero": false}, "axis": {"values": [1, 2, 3, 4, 5, 6, 7, 8, 9, 10, 11, 12], "labelExpr": "['I','II','III','IV','V','VI','VII','VIII','IX','X','XI','XII'][datum.value-1]", "grid": false, "domainColor": "#bfbfbf", "domainWidth": 1.5, "labelPadding": 11, "title": "Aylar", "titlePadding": 0, "titleFontSize": 16, "labelFlush": false, "labelOverlap": false}},
            "y": {"field": "top", "type": "quantitative", "scale": {"domain": [0, 160], "nice": false}, "axis": null},
            "y2": {"field": "bottom"},
            "detail": {"field": "seg"}
          }
        },
        {
          "data": {"name": "lines"},
          "transform": [{"filter": "datum.panel === 'b' && datum.series === 'Yağış'"}],
          "mark": {"type": "line", "strokeWidth": 1.5, "point": {"filled": true, "size": 55}},
          "encoding": {
            "x": {"field": "m", "type": "quantitative", "scale": {"domain": [0.5, 12.5], "nice": false, "zero": false}, "axis": {"values": [1, 2, 3, 4, 5, 6, 7, 8, 9, 10, 11, 12], "labelExpr": "['I','II','III','IV','V','VI','VII','VIII','IX','X','XI','XII'][datum.value-1]", "grid": false, "domainColor": "#bfbfbf", "domainWidth": 1.5, "labelPadding": 11, "title": "Aylar", "titlePadding": 0, "titleFontSize": 16, "labelFlush": false, "labelOverlap": false}},
            "y": {"field": "v", "type": "quantitative", "scale": {"domain": [0, 160], "nice": false}, "axis": {"orient": "left", "values": [0, 20, 40, 60, 80, 100, 120, 140, 160], "grid": true, "gridColor": "#eef2e8", "domainColor": "#6a9b43", "domainWidth": 1.2, "labelPadding": 16, "title": "Ort. Aylık Toplam Y ağış ( mm)", "titlePadding": 4}},
            "color": {"field": "series", "type": "nominal", "scale": {"domain": ["Yağış", "P.E.T."], "range": ["#843c0c", "#ffc000"]}, "legend": {"title": null, "orient": "none", "legendX": 132, "legendY": -34, "direction": "horizontal", "symbolType": "M-2.94,0H2.94M-0.5,0A0.5,0.5 0 1,0 0.5,0A0.5,0.5 0 1,0 -0.5,0Z", "symbolSize": 256, "symbolStrokeWidth": 1.8, "labelFontSize": 17, "labelOffset": 20, "columnPadding": 16, "encode": {"symbols": {"update": {"fill": {"signal": "datum.value === 'Yağış' ? '#843c0c' : '#ffc000'"}}}}}},
            "strokeDash": {"field": "series", "type": "nominal", "scale": {"domain": ["Yağış", "P.E.T."], "range": [[4, 3], [1, 0]]}, "legend": {"title": null, "orient": "none", "legendX": 132, "legendY": -34}}
          }
        },
        {
          "data": {"name": "lines"},
          "transform": [{"filter": "datum.panel === 'b' && datum.series === 'P.E.T.'"}],
          "mark": {"type": "line", "strokeWidth": 3, "point": {"filled": true, "size": 55}},
          "encoding": {
            "x": {"field": "m", "type": "quantitative", "scale": {"domain": [0.5, 12.5], "nice": false, "zero": false}, "axis": {"values": [1, 2, 3, 4, 5, 6, 7, 8, 9, 10, 11, 12], "labelExpr": "['I','II','III','IV','V','VI','VII','VIII','IX','X','XI','XII'][datum.value-1]", "grid": false, "domainColor": "#bfbfbf", "domainWidth": 1.5, "labelPadding": 11, "title": "Aylar", "titlePadding": 0, "titleFontSize": 16, "labelFlush": false, "labelOverlap": false}},
            "y": {"field": "v", "type": "quantitative", "scale": {"domain": [0, 160], "nice": false}, "axis": {"orient": "right", "values": [0, 20, 40, 60, 80, 100, 120, 140, 160], "grid": false, "domainColor": "#6a9b43", "domainWidth": 1.2, "labelPadding": 15, "title": "Aylık P.E.T. ( mm)", "titleFontSize": 16, "titleAngle": 270, "titleBaseline": "top", "titlePadding": 10}},
            "color": {"field": "series", "type": "nominal", "scale": {"domain": ["Yağış", "P.E.T."], "range": ["#843c0c", "#ffc000"]}},
            "strokeDash": {"field": "series", "type": "nominal", "scale": {"domain": ["Yağış", "P.E.T."], "range": [[4, 3], [1, 0]]}}
          }
        }
      ]
    }
  ]
}
